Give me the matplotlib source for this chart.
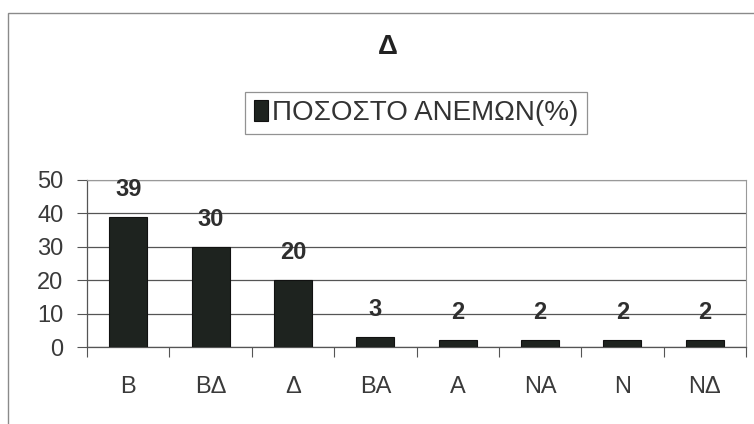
import matplotlib.pyplot as plt
from matplotlib.patches import Rectangle

directions = ['Β', 'ΒΔ', 'Δ', 'ΒΑ', 'Α', 'ΝΑ', 'Ν', 'ΝΔ']
percent = [39, 30, 20, 3, 2, 2, 2, 2]
yticks = [0, 10, 20, 30, 40, 50]

plt.rcParams['font.family'] = ['Liberation Sans', 'DejaVu Sans']

fig = plt.figure(figsize=(7.54, 4.24), dpi=100)
W, H = 754, 424

# outer chart frame
fig.patches.append(Rectangle((8 / W, -0.1), 1.0, 1 - 13 / H + 0.1,
                             transform=fig.transFigure, fill=False,
                             edgecolor='#8a8a8a', lw=1.0))

ax = fig.add_axes([87 / W, 1 - 347 / H, (746 - 87) / W, (347 - 180) / H])
x = list(range(len(directions)))
bars = ax.bar(x, percent, width=0.46, color='#1e231f', edgecolor='#111111',
              lw=0.8, zorder=3, label='ΠΟΣΟΣΤΟ ΑΝΕΜΩΝ(%)')
for xi, v in zip(x, percent):
    ax.text(xi, v + 8.3, str(v), ha='center', va='center', fontsize=17,
            fontweight='bold', color='#2e2e2e', zorder=4, clip_on=False)

ax.set_xlim(-0.5, len(directions) - 0.5)
ax.set_ylim(0, 50)
ax.set_yticks(yticks)
ax.tick_params(axis='y', labelsize=17, length=7, width=0.8, color='#555555',
               labelcolor='#3a3a3a', pad=10)
ax.yaxis.grid(True, color='#555555', lw=0.9, zorder=0)

# category labels placed between boundary ticks
ax.set_xticks([i + 0.5 for i in range(-1, len(directions))])
ax.set_xticklabels([])
ax.set_xticks(x, minor=True)
ax.set_xticklabels(directions, minor=True)
ax.tick_params(axis='x', which='major', length=7, width=0.8, color='#555555',
               direction='out')
ax.tick_params(axis='x', which='minor', length=0, labelsize=17, pad=21,
               labelcolor='#3a3a3a')

for side in ['top', 'right']:
    ax.spines[side].set_color('#999999')
    ax.spines[side].set_linewidth(0.8)
for side in ['left', 'bottom']:
    ax.spines[side].set_color('#555555')
    ax.spines[side].set_linewidth(0.9)

fig.text(388 / W, 1 - 47 / H, 'Δ', ha='center', va='center', fontsize=20,
         fontweight='bold', color='#222222')

leg = ax.legend(loc='center', bbox_to_anchor=(416 / W, 1 - 113 / H),
                bbox_transform=fig.transFigure, fontsize=20, frameon=True,
                fancybox=False, handlelength=0.5, handleheight=0.8,
                handletextpad=0.15, borderpad=0.3, labelcolor='#333333')
leg.get_frame().set_edgecolor('#777777')
leg.get_frame().set_linewidth(0.9)

fig.savefig('out.png', dpi=100)
